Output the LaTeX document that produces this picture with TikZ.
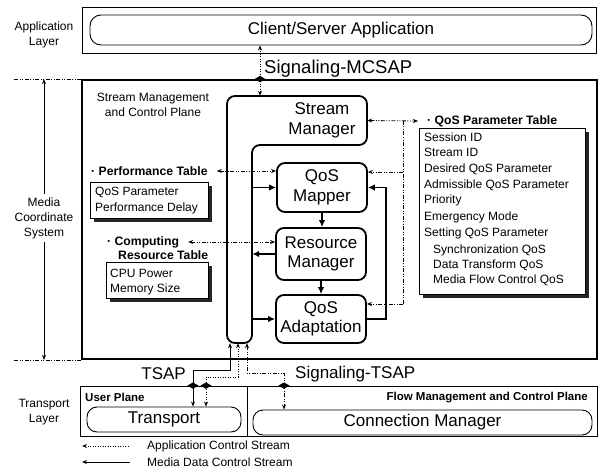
\documentclass[tikz,border=0pt]{standalone}
\usepackage{fontspec}
\setmainfont{Liberation Sans}
\usetikzlibrary{arrows.meta,calc,shadows}

\begin{document}
\begin{tikzpicture}[x=1pt,y=-1pt]
\tikzset{
  bigtxt/.style={font=\fontsize{17}{19.5}\selectfont},
  smalltxt/.style={font=\fontsize{12}{15}\selectfont},
  headtxt/.style={font=\bfseries\fontsize{12.2}{14}\selectfont},
  planetxt/.style={font=\bfseries\fontsize{11.5}{14}\selectfont},
  thinbox/.style={draw, line width=0.8pt, inner sep=0pt},
  module/.style={draw, line width=1.8pt, rounded corners=8pt, minimum width=90pt,
                 align=center, bigtxt, inner sep=0pt},
  tablebox/.style={draw, fill=white, line width=0.9pt, inner sep=0pt,
                   drop shadow={shadow xshift=4pt, shadow yshift=-4pt, fill=black!85, opacity=1}},
  ctip/.tip={Stealth[length=5pt,width=4pt]},
  mtip/.tip={Latex[length=7pt,width=6.5pt]},
  mflow/.style={line width=1.8pt, -mtip},
  ctrl/.style={line width=0.8pt, dash pattern=on 4pt off 1.5pt on 1pt off 1.5pt on 1pt off 1.5pt},
  appline/.style={line width=0.8pt, dash pattern=on 1pt off 1.5pt},
  dataline/.style={line width=0.9pt},
}
\newcommand\jdiamond[1]{\fill (#1) ++(-5.5,0) -- ++(5.5,-3.2) -- ++(5.5,3.2) -- ++(-5.5,3.2) -- cycle;}
\useasboundingbox (0,0) rectangle (602,468);

% ---------------- application layer ----------------
\node[thinbox, minimum width=514pt, minimum height=46pt] (appouter) at (339,30) {};
\node[draw, line width=0.9pt, rounded corners=11pt, minimum width=502pt, minimum height=30pt,
      inner sep=0pt, bigtxt] (app) at (341,30) {Client/Server Application};
\node[smalltxt, align=center] (applab) at (44,35) {Application\\Layer};
\node[font=\fontsize{18.5}{20}\selectfont, anchor=west, inner sep=0pt] (mcsap) at (264,69) {Signaling-MCSAP};

% ---------------- media coordinate system ----------------
\node[draw, line width=1.8pt, minimum width=515pt, minimum height=279pt, inner sep=0pt] (media) at (339.5,219.5) {};
\node[smalltxt, align=center] (mcs) at (44,218) {Media\\Coordinate\\System};
\draw[line width=0.7pt, -ctip] (mcs.north) -- (mcs.north |- media.north);
\draw[line width=0.7pt, -ctip] (mcs.south) -- (mcs.south |- media.south);
\draw[ctrl] (media.north west) -- ++(-67,0);
\draw[ctrl] (media.south west) -- ++(-67,0);
\node[smalltxt, align=center] (smcp) at (153,104.5) {Stream Management\\and Control Plane};

% stream bus joined with the stream manager
\draw[line width=1.8pt, rounded corners=8pt]
  (300,96) -- (367,96) -- (367,145) -- (252,145) -- (252,343) -- (227,343) -- (227,96) -- cycle;
\node[bigtxt, align=center, minimum width=90pt, minimum height=49pt, inner sep=0pt] (sm) at (322,120.5) {Stream\\Manager};
\node[minimum width=25pt, minimum height=247pt, inner sep=0pt] (bus) at (239.5,219.5) {};

% QoS modules
\node[module, minimum height=49pt] (qm) at (322,187.5) {QoS\\Mapper};
\node[module, minimum height=52pt] (rm) at (321,254) {Resource\\Manager};
\node[module, minimum height=48pt] (qa) at (321,319) {QoS\\Adaptation};

% media data flow
\draw[mflow] (qm.west -| bus.east) -- (qm.west);
\draw[mflow] (rm.west) -- (rm.west -| bus.east);
\draw[mflow] (qa.west -| bus.east) -- (qa.west);
\draw[mflow] (qm.south) -- (qm.south |- rm.north);
\draw[mflow] (rm.south) -- (rm.south |- qa.north);
\draw[mflow] (qa.east) -- ++(19,0) |- (qm.east);

% performance table
\node[headtxt, anchor=west, inner sep=0pt] (ph) at (91,171) {· Performance Table};
\node[tablebox, minimum width=118pt, minimum height=36pt] (perf) at (149,200) {};
\node[smalltxt, anchor=west, inner sep=0pt] (perf1) at (95,192) {QoS Parameter};
\node[smalltxt, anchor=west, inner sep=0pt] (perf2) at (95,208) {Performance Delay};
\draw[ctrl, ctip-ctip] ([xshift=9pt]ph.east) -- (qm.west |- ph.east);

% computing resource table
\node[headtxt, anchor=west, inner sep=0pt] (ch) at (107,242) {· Computing};
\node[headtxt, anchor=west, inner sep=0pt] (ch2) at (118,255) {Resource Table};
\node[tablebox, minimum width=102pt, minimum height=36pt] (comp) at (157,280) {};
\node[smalltxt, anchor=west, inner sep=0pt] (comp1) at (110,273) {CPU Power};
\node[smalltxt, anchor=west, inner sep=0pt] (comp2) at (110,289) {Memory Size};
\draw[ctrl, ctip-ctip] ([xshift=9pt]ch.east) -- (rm.west |- ch.east);

% QoS parameter table
\node[headtxt, anchor=west, inner sep=0pt] (qh) at (427,121) {· QoS Parameter Table};
\node[tablebox, minimum width=166pt, minimum height=166pt] (qt) at (502,211) {};
\foreach \t/\yy/\xx [count=\i] in {Session ID/137/424, Stream ID/152/424,
    Desired QoS Parameter/169/424, Admissible QoS Parameter/185/424, Priority/200/424,
    Emergency Mode/217/424, Setting QoS Parameter/233/424,
    Synchronization QoS/250/433, Data Transform QoS/265/433, Media Flow Control QoS/280/433}
  \node[smalltxt, anchor=west, inner sep=0pt] (qt\i) at (\xx,\yy) {\t};

\coordinate (qj) at (403,121);
\coordinate (qmin) at ([yshift=15.5pt]qm.east);
\coordinate (qain) at ([yshift=15pt]qa.east);
\draw[ctrl, ctip-ctip] (sm.east) -- ([xshift=-9pt]qh.west);
\draw[ctrl] (qj) -- (qj |- qain);
\draw[ctrl, -ctip] (qj |- qmin) -- (qmin);
\draw[ctrl, -ctip] (qj |- qain) -- (qain);

% MCSAP signalling
\coordinate (mx) at (260,0);
\draw[appline, ctip-ctip] (app.south -| mx) -- (mx |- sm.north);
\jdiamond{mx |- media.north}

% ---------------- transport layer ----------------
\node[thinbox, minimum width=517pt, minimum height=50pt] (tl) at (338.5,411) {};
\coordinate (dv) at (247,0);
\draw[line width=0.8pt] (dv |- tl.north) -- (dv |- tl.south);
\node[smalltxt, align=center] (tllab) at (44,412) {Transport\\Layer};
\node[planetxt, anchor=west, inner sep=0pt] (up) at (85,397) {User Plane};
\node[planetxt, anchor=east, inner sep=0pt] (fm) at (588,398) {Flow Management and Control Plane};
\node[draw, line width=0.9pt, rounded corners=10pt, minimum width=154pt, minimum height=25pt,
      inner sep=0pt, bigtxt] (tr) at (164,419.5) {Transport};
\node[draw, line width=0.9pt, rounded corners=10pt, minimum width=339pt, minimum height=25pt,
      inner sep=0pt, bigtxt] (cm) at (422.5,422.5) {Connection Manager};
\node[bigtxt, anchor=east, inner sep=0pt] (tsap) at (186,374) {TSAP};
\node[bigtxt, anchor=west, inner sep=0pt] (stsap) at (295,374) {Signaling-TSAP};

% streams between bus and transport layer
\draw[dataline, ctip-ctip] ([xshift=-9.5pt]bus.south) -- ++(0,27) -| ([xshift=29pt]tr.north);
\draw[appline, ctip-ctip] ([xshift=-1.5pt]bus.south) -- ++(0,34) -| ([xshift=42pt]tr.north);
\draw[ctrl, ctip-ctip] ([xshift=7.5pt]bus.south) -- ++(0,30) -| ([xshift=-138.5pt]cm.north);
\coordinate (d1) at ([xshift=29pt]tr.north);
\coordinate (d2) at ([xshift=42pt]tr.north);
\coordinate (d3) at ([xshift=-138.5pt]cm.north);
\jdiamond{d1 |- tl.north}
\jdiamond{d2 |- tl.north}
\jdiamond{d3 |- tl.north}

% ---------------- legend ----------------
\node[smalltxt, anchor=west, inner sep=0pt] (lg1) at (147,446) {Application Control Stream};
\node[smalltxt, anchor=west, inner sep=0pt] (lg2) at (147,462) {Media Data Control Stream};
\draw[appline, ctip-] ([xshift=-65pt]lg1.west) -- ([xshift=-17pt]lg1.west);
\draw[dataline, ctip-] ([xshift=-65pt]lg2.west) -- ([xshift=-17pt]lg2.west);
\end{tikzpicture}
\end{document}
